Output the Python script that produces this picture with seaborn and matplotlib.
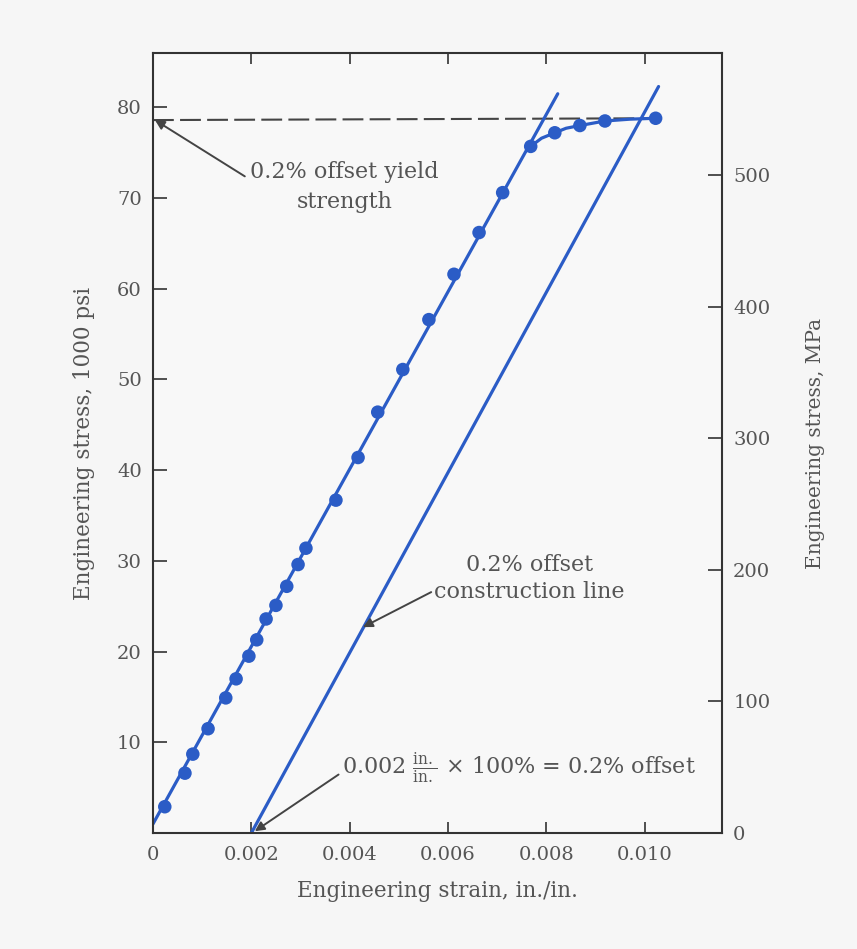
import numpy as np
import pandas as pd
import matplotlib
matplotlib.use("Agg")
import matplotlib.pyplot as plt
import seaborn as sns

# measured data points (strain in./in., stress ksi)
strain_pts = [0.00024, 0.00065, 0.00081, 0.00112, 0.00148, 0.00169, 0.00195,
              0.00211, 0.00230, 0.00250, 0.00272, 0.00295, 0.00311, 0.00372,
              0.00417, 0.00457, 0.00508, 0.00561, 0.00612, 0.00663, 0.00711,
              0.00768, 0.00817, 0.00868, 0.00919, 0.01022]
stress_pts = [2.9, 6.6, 8.7, 11.5, 14.9, 17.0, 19.5,
              21.3, 23.6, 25.1, 27.2, 29.6, 31.4, 36.7,
              41.4, 46.4, 51.1, 56.6, 61.6, 66.2, 70.6,
              75.7, 77.2, 78.0, 78.5, 78.8]

# fitted elastic line
elastic_strain = [0.0, 0.00823]
elastic_stress = [1.0, 81.5]

# plastic curve beyond proportional limit
curve_strain = [0.00768, 0.00790, 0.00817, 0.00840, 0.00868, 0.00919, 0.00970, 0.01022]
curve_stress = [75.7, 76.6, 77.2, 77.7, 78.0, 78.5, 78.7, 78.8]

# 0.2% offset construction line
offset_strain = [0.00200, 0.01028]
offset_stress = [0.0, 82.3]

# yield strength dashed line
yield_strain = [0.0, 0.01022]
yield_stress = [78.6, 78.8]

x_ticks = [0, 0.002, 0.004, 0.006, 0.008, 0.010]
x_labels = ["0", "0.002", "0.004", "0.006", "0.008", "0.010"]
y_ticks = [10, 20, 30, 40, 50, 60, 70, 80]
mpa_ticks = [0, 100, 200, 300, 400, 500]
KSI_TO_MPA = 6.895

blue = "#2b5cc6"
grey = "#555555"

sns.set_theme(style="ticks")
plt.rcParams["font.family"] = ["DejaVu Serif"]
plt.rcParams["mathtext.fontset"] = "dejavuserif"

fig = plt.figure(figsize=(8.57, 9.49), dpi=100, facecolor="#f6f6f6")
ax = fig.add_axes([0.1785, 0.1222, 0.664, 0.822])
ax.set_facecolor("#f8f8f8")

sns.lineplot(x=yield_strain, y=yield_stress, ax=ax, color="#444444", lw=1.5,
             linestyle=(0, (10, 3)), sort=False, estimator=None)
sns.lineplot(x=elastic_strain, y=elastic_stress, ax=ax, color=blue, lw=2.3,
             sort=False, estimator=None)
sns.lineplot(x=offset_strain, y=offset_stress, ax=ax, color=blue, lw=2.3,
             sort=False, estimator=None)
sns.lineplot(x=curve_strain, y=curve_stress, ax=ax, color=blue, lw=2.3,
             sort=False, estimator=None)
sns.scatterplot(x=strain_pts, y=stress_pts, ax=ax, color=blue, s=95,
                edgecolor="none", zorder=5)

ax.set_xlim(0, 0.01157)
ax.set_ylim(0, 86)
ax.set_xticks(x_ticks)
ax.set_xticklabels(x_labels)
ax.set_yticks(y_ticks)
ax.tick_params(axis="x", direction="in", length=8, width=1.2, top=True,
               labelsize=14, colors="#333333", labelcolor=grey, pad=9)
ax.tick_params(axis="y", direction="in", length=10, width=1.2,
               labelsize=14, colors="#333333", labelcolor=grey, pad=8)
for sp in ax.spines.values():
    sp.set_color("#333333")
    sp.set_linewidth(1.5)

ax.set_xlabel("Engineering strain, in./in.", fontsize=15.5, color=grey, labelpad=12)
ax.set_ylabel("Engineering stress, 1000 psi", fontsize=15.5, color=grey, labelpad=16)

ax2 = ax.twinx()
ax2.set_ylim(0, 86 * KSI_TO_MPA)
ax2.set_yticks(mpa_ticks)
ax2.tick_params(axis="y", direction="in", length=10, width=1.2,
                labelsize=14, colors="#333333", labelcolor=grey, pad=8)
for sp in ax2.spines.values():
    sp.set_visible(False)
ax2.set_ylabel("Engineering stress, MPa", fontsize=14.5, color=grey, labelpad=26)

arrow = dict(arrowstyle="-|>", color="#444444", lw=1.4, mutation_scale=14,
             shrinkA=0, shrinkB=0)
ax.annotate("0.2% offset yield\nstrength", xy=(0.00004, 78.6),
            xytext=(0.0039, 71.2), textcoords="data", ha="center", va="center",
            fontsize=16, color=grey, linespacing=1.45,
            arrowprops=dict(arrow, relpos=(-0.03, 0.71)))
ax.annotate("0.2% offset\nconstruction line", xy=(0.00427, 22.7),
            xytext=(0.00766, 28.1), textcoords="data", ha="center", va="center",
            fontsize=16, color=grey, linespacing=1.3,
            arrowprops=dict(arrow, relpos=(0.0, 0.25)))
ax.annotate(r"0.002 $\frac{\mathrm{in.}}{\mathrm{in.}}$ × 100% = 0.2% offset",
            xy=(0.00207, 0.2), xytext=(0.00384, 7.27), textcoords="data",
            ha="left", va="center", fontsize=16, color=grey,
            arrowprops=dict(arrow, relpos=(0.0, 0.35)))

fig.savefig("out.png", dpi=100, facecolor=fig.get_facecolor())
